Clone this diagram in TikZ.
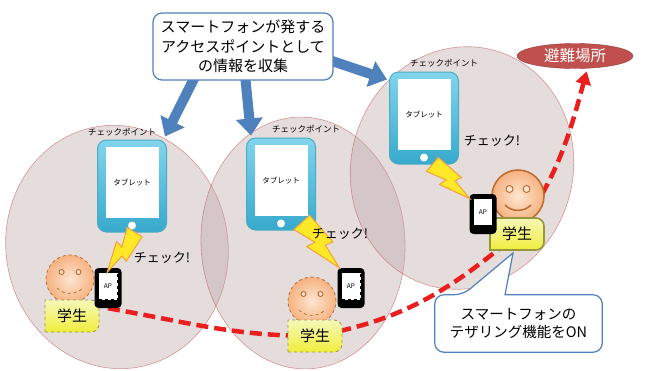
\documentclass[tikz,border=0pt]{standalone}
\usepackage{fontspec}
\setmainfont{Noto Sans CJK JP}
\usetikzlibrary{positioning,arrows.meta,shapes.geometric}

\definecolor{areafill}{RGB}{190,168,168}
\definecolor{areaedge}{RGB}{192,80,77}
\definecolor{infoblue}{RGB}{79,129,189}
\definecolor{tabhi}{RGB}{130,212,236}
\definecolor{tablo}{RGB}{55,170,205}
\definecolor{tabedge}{RGB}{75,172,198}
\definecolor{skinin}{RGB}{253,230,210}
\definecolor{skinout}{RGB}{246,178,128}
\definecolor{skinedge}{RGB}{190,110,50}
\definecolor{shirthi}{RGB}{245,248,185}
\definecolor{shirtlo}{RGB}{240,238,60}
\definecolor{shirtedge}{RGB}{150,150,60}
\definecolor{boltfill}{RGB}{255,232,40}
\definecolor{boltedge}{RGB}{245,160,60}
\definecolor{routered}{RGB}{235,30,30}
\definecolor{evacred}{RGB}{192,80,77}
\definecolor{evacedge}{RGB}{150,55,55}

\pgfdeclarelayer{bg}
\pgfdeclarelayer{mid}
\pgfsetlayers{bg,mid,main}

\tikzset{
  area/.style={fill=areafill, fill opacity=0.4, draw=areaedge, draw opacity=0.55, line width=0.6pt},
  bubble/.style={draw=infoblue, line width=1.2pt, fill=white, rounded corners=9pt, align=center},
  infoarrow/.style={infoblue, line width=10pt, -{Triangle[width=26pt,length=17pt]}},
  tablet/.style={rounded corners=9pt, top color=tabhi, bottom color=tablo, draw=tabedge, line width=1pt, minimum width=69pt, minimum height=92pt},
  screen/.style={fill=white, minimum width=53pt, minimum height=71pt, font=\fontsize{7.5}{9}\selectfont},
  cplabel/.style={font=\fontsize{8.5}{10}\selectfont},
  phone/.style={fill=black, rounded corners=4pt, minimum width=27pt, minimum height=40pt},
  apscreen/.style={fill=white, draw=black, minimum width=19pt, minimum height=27pt, inner sep=0pt, font=\fontsize{6.5}{8}\selectfont},
  face/.style={circle, inner color=skinin, outer color=skinout, draw=skinedge},
  eye/.style={circle, inner sep=0pt, fill=skinin, draw=skinedge, line width=1pt},
  shirt/.style={top color=shirthi, bottom color=shirtlo, draw=shirtedge},
  checktext/.style={font=\fontsize{13}{15}\selectfont},
  route/.style={routered, line width=4.5pt, dash pattern=on 12pt off 6pt, -{Triangle[width=15pt,length=13pt]}},
  past/.style={dashed, line width=0.8pt},
  now/.style={solid, line width=1.6pt},
  bolt/.pic={
    \filldraw[fill=boltfill, draw=boltedge, line width=1pt]
      (0,-0.22) -- (0,0.14) -- (0.4,0.02) -- (0.36,0.17) -- (1,0) -- (0.55,-0.08) -- (0.6,-0.21) -- cycle;
  }
}

\begin{document}
\begin{tikzpicture}[x=1pt, y=-1pt]
\useasboundingbox (0,0) rectangle (647,370);

% checkpoint ranges
\begin{pgfonlayer}{bg}
\fill[white] (0,0) rectangle (647,370);
\draw[area] (117,247) circle[x radius=111, y radius=122, rotate=10];
\draw[area] (303,243) circle[x radius=102, y radius=126, rotate=3];
\draw[area] (462,168) circle[x radius=111, y radius=122, rotate=-15];
\end{pgfonlayer}

\node[bubble, minimum width=180pt, minimum height=67pt, font=\fontsize{15}{19.5}\selectfont] (info) at (243,46.5)
  {スマートフォンが発する\\アクセスポイントとして\\の情報を収集};

% tablets at each checkpoint
\foreach \i/\px/\py/\lx/\ly in {1/132/186/122/132, 2/281/184/306/129, 3/424/118/444/63} {
  \node[tablet] (tab\i) at (\px,\py) {};
  \node[screen] (scr\i) at ([yshift=3.5pt]tab\i.center) {タブレット};
  \fill[white] ([yshift=7pt]tab\i.south) circle (4pt);
  \node[cplabel] (cp\i) at (\lx,\ly) {チェックポイント};
}

% students
\foreach \i/\fx/\fy/\r/\e/\bx/\by/\st in {1/70/279/24/5/72/316/past, 2/312/301/24/5/315/336/past, 3/518/196/26/7/517/234/now} {
  \node[face, \st, minimum size=2*\r pt] (face\i) at (\fx,\fy) {};
  \node[eye, minimum size=\e pt] (eyel\i) at ([shift={(-8.5pt,7pt)}]face\i.center) {};
  \node[eye, minimum size=\e pt] (eyer\i) at ([shift={(8.5pt,7pt)}]face\i.center) {};
  \draw[skinedge, \st] ([shift={(-13pt,-9pt)}]face\i.center) to[bend right=45] ([shift={(13pt,-9pt)}]face\i.center);
  \path[shirt, \st] (\bx-27,\by+16) -- ++(0,-32) [rounded corners=8pt] -- ++(54,0) -- ++(0,32) [sharp corners] -- cycle;
  \node[font=\fontsize{15}{18}\selectfont] (bd\i) at (\bx,\by) {学生};
}

% phones acting as access points
\foreach \i/\px/\py/\st in {1/108/288/past, 2/351/288/past, 3/483/214/now} {
  \node[phone] (ph\i) at (\px,\py) {};
  \node[apscreen, \st] (ap\i) at ([yshift=2pt]ph\i.center) {AP};
}

% tablet <-> phone
\foreach \px/\py/\a/\l in {133/231/238/49, 300/224/-48/59, 431/166/-40/51}
  \pic[rotate=\a, scale=\l] at (\px,\py) {bolt};

\node[checktext] (chk1) at (162,258) {チェック!};
\node[checktext] (chk2) at (340,234) {チェック!};
\node[checktext] (chk3) at (492,141) {チェック!};

\node[ellipse, fill=evacred, draw=evacedge, text=white, inner sep=0pt, minimum width=116pt, minimum height=25pt,
  font=\fontsize{15.5}{18}\selectfont] (evac) at (575,56) {避難場所};

\node[align=center, minimum width=167pt, minimum height=57pt, font=\fontsize{14.5}{18}\selectfont] (tether) at (518.5,323.5)
  {スマートフォンの\\テザリング機能をON};
\coordinate (ptr) at (513,253);

\begin{pgfonlayer}{mid}
\draw[infoarrow] ([shift={(-47pt,6pt)}]info.south) -- ([shift={(-2pt,3pt)}]tab1.north east);
\draw[infoarrow] ([shift={(2pt,6pt)}]info.south) -- ([shift={(5pt,2pt)}]tab2.north west);
\draw[infoarrow] ([shift={(-6pt,-13pt)}]info.east) -- ([shift={(-2pt,-8pt)}]tab3.north west);
% route to the shelter
\draw[route, shorten >=3pt] (ph1.south) to[out=-10,in=180] (bd2.center) to[out=10,in=220] (bd3.center) to[out=55,in=-105] (evac.-45);
\draw[infoblue, line width=1.2pt, fill=white] ([xshift=-13.5pt]tether.north) [rounded corners=9pt] -- (tether.north east)
  -- (tether.south east) -- (tether.south west) -- (tether.north west) -- ([xshift=-55.5pt]tether.north) [sharp corners] -- (ptr) -- cycle;
\end{pgfonlayer}

\end{tikzpicture}
\end{document}
